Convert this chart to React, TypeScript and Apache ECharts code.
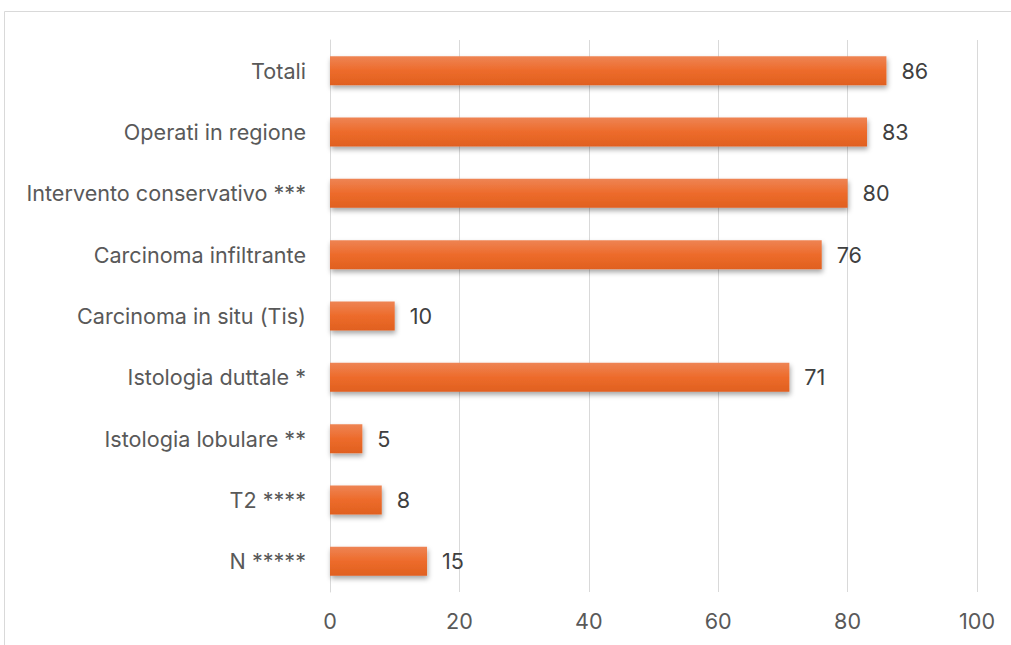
import React, { useEffect, useRef } from "react";
import * as echarts from "echarts";

const categories = [
  "Totali",
  "Operati in regione",
  "Intervento conservativo ***",
  "Carcinoma infiltrante",
  "Carcinoma in situ (Tis)",
  "Istologia duttale *",
  "Istologia lobulare **",
  "T2 ****",
  "N *****",
];
const values = [86, 83, 80, 76, 10, 71, 5, 8, 15];
const xTicks = [0, 20, 40, 60, 80, 100];

export default function App() {
  const ref = useRef<HTMLDivElement>(null);
  useEffect(() => {
    if (!ref.current) return;
    const chart = echarts.init(ref.current, undefined, { renderer: "svg" });
    const font = "Inter, 'Noto Sans', sans-serif";
    const fs = 21.6;
    chart.setOption({
      animation: false,
      backgroundColor: "#ffffff",
      graphic: [
        {
          type: "rect",
          shape: { x: 4.5, y: 11.5, width: 1030, height: 660 },
          style: { fill: "none", stroke: "#d9d9d9", lineWidth: 1 },
          silent: true,
          z: 0,
        },
      ],
      grid: { left: 330, right: 34, top: 40, bottom: 53, containLabel: false },
      xAxis: {
        type: "value",
        min: xTicks[0],
        max: xTicks[xTicks.length - 1],
        interval: 20,
        axisLine: { show: false },
        axisTick: { show: false },
        splitLine: { show: true, lineStyle: { color: "#d9d9d9", width: 1 } },
        axisLabel: {
          color: "#595959",
          fontSize: fs,
          fontFamily: font,
          margin: 18,
        },
      },
      yAxis: {
        type: "category",
        data: categories,
        inverse: true,
        axisLine: { show: true, lineStyle: { color: "#d9d9d9", width: 1 } },
        axisTick: { show: false },
        axisLabel: {
          color: "#595959",
          fontSize: fs,
          fontFamily: font,
          margin: 24,
        },
      },
      series: [
        {
          type: "bar",
          data: values,
          barWidth: 29,
          itemStyle: {
            color: new echarts.graphic.LinearGradient(0, 0, 0, 1, [
              { offset: 0, color: "#ee8454" },
              { offset: 0.5, color: "#ed6b2b" },
              { offset: 1, color: "#e0601f" },
            ]),
            shadowColor: "rgba(0,0,0,0.35)",
            shadowBlur: 5,
            shadowOffsetY: 3,
            shadowOffsetX: 1,
          },
          label: {
            show: true,
            position: "right",
            distance: 15,
            color: "#404040",
            fontSize: fs,
            fontFamily: font,
          },
        },
      ],
    });
    return () => chart.dispose();
  }, []);
  return (
    <div
      ref={ref}
      style={{ position: "fixed", left: 0, top: 0, width: 1011, height: 645 }}
    />
  );
}
